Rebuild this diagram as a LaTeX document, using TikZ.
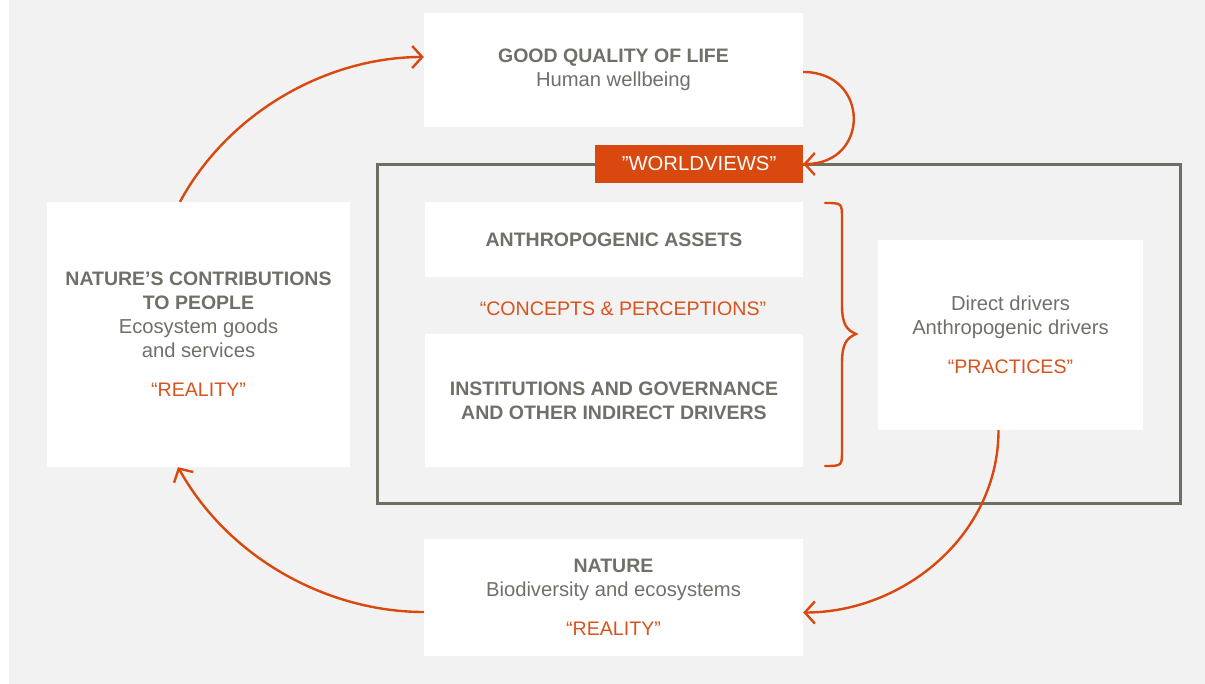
\documentclass[tikz,border=0pt]{standalone}
\usepackage{fontspec}
\setmainfont{Liberation Sans}
\usetikzlibrary{arrows.meta,calc}
\definecolor{bg}{HTML}{F2F2F2}
\definecolor{txtgray}{HTML}{6F7067}
\definecolor{framegray}{HTML}{6E6F63}
\definecolor{orng}{HTML}{D9480F}
\definecolor{orngtxt}{HTML}{D9531E}
\newcommand{\hd}[1]{{\fontsize{19.5}{24}\selectfont\bfseries #1}}
\newcommand{\ot}[1]{{\fontsize{19.6}{24}\selectfont\color{orngtxt}#1}}
\begin{document}
\begin{tikzpicture}[x=1pt,y=-1pt,
  box/.style={fill=white, draw=none, inner sep=0pt, align=center, text=txtgray,
    font=\fontsize{20.2}{24}\selectfont},
  conn/.style={draw=orng, line width=2.4pt,
    -{Straight Barb[length=10pt,width=22pt]}},
  brace/.style={draw=orng, line width=2.4pt, line cap=round},
  frm/.style={draw=framegray, line width=3pt, inner sep=0pt},
  tag/.style={fill=orng, text=white, inner sep=0pt, font=\fontsize{20.3}{24}\selectfont},
  otext/.style={text=orngtxt, inner sep=0pt, font=\fontsize{19.6}{24}\selectfont}]
\useasboundingbox (0,0) rectangle (1205,684);
\fill[white] (0,0) rectangle (1205,684);
\fill[bg] (9,0) rectangle (1205,684);

% frame
\node[frm, minimum width=803pt, minimum height=338pt] (frame) at (778.5,334) {};

% boxes
\node[box, minimum width=379pt, minimum height=114pt] (gql) at (613.5,70)
  {\hd{GOOD QUALITY OF LIFE}\\Human wellbeing};
\node[box, minimum width=303pt, minimum height=265pt] (ncp) at (198.5,334.5)
  {\hd{NATURE’S CONTRIBUTIONS}\\\hd{TO PEOPLE}\\Ecosystem goods\\and services\\[15pt]\ot{“REALITY”}};
\node[box, minimum width=378pt, minimum height=75pt] (assets) at (614,239.5)
  {\hd{ANTHROPOGENIC ASSETS}};
\node[otext] (cp) at (623,309) {“CONCEPTS \& PERCEPTIONS”};
\node[box, minimum width=378pt, minimum height=133pt] (inst) at (614,400.5)
  {\hd{INSTITUTIONS AND GOVERNANCE}\\\hd{AND OTHER INDIRECT DRIVERS}};
\node[box, minimum width=265pt, minimum height=190pt] (drv) at (1010.5,335)
  {Direct drivers\\Anthropogenic drivers\\[15pt]\ot{“PRACTICES”}};
\node[box, minimum width=379pt, minimum height=117pt] (nat) at (613.5,597.5)
  {\hd{NATURE}\\Biodiversity and ecosystems\\[15pt]\ot{“REALITY”}};
\node[tag, minimum width=208pt, minimum height=38pt] (wv) at (699,164) {”WORLDVIEWS”};

% brace
\draw[brace] (825,203) .. controls (842,203) .. (842,219) -- (842,305)
  .. controls (842,325) and (847,330) .. (856,334)
  .. controls (847,338) and (842,343) .. (842,363) -- (842,450)
  .. controls (842,466) .. (825,466);

% connectors
\draw[conn] ($(ncp.north west)!0.439!(ncp.north east)$)
  .. controls +(50,-92) and +(-94,0) .. ($(gql.west)+(0,-13)$);
\draw[conn] ($(gql.east)+(0,2)$) .. controls +(67,0) and +(67,0) .. (wv.east);
\draw[conn] ($(drv.south)+(-12,0)$) .. controls +(0,105) and +(100,0) .. ($(nat.east)+(0,15)$);
\draw[conn] ($(nat.west)+(0,14.5)$) .. controls +(-94,0) and +(52,93) .. ($(ncp.south)+(-20.5,0)$);
\end{tikzpicture}
\end{document}
